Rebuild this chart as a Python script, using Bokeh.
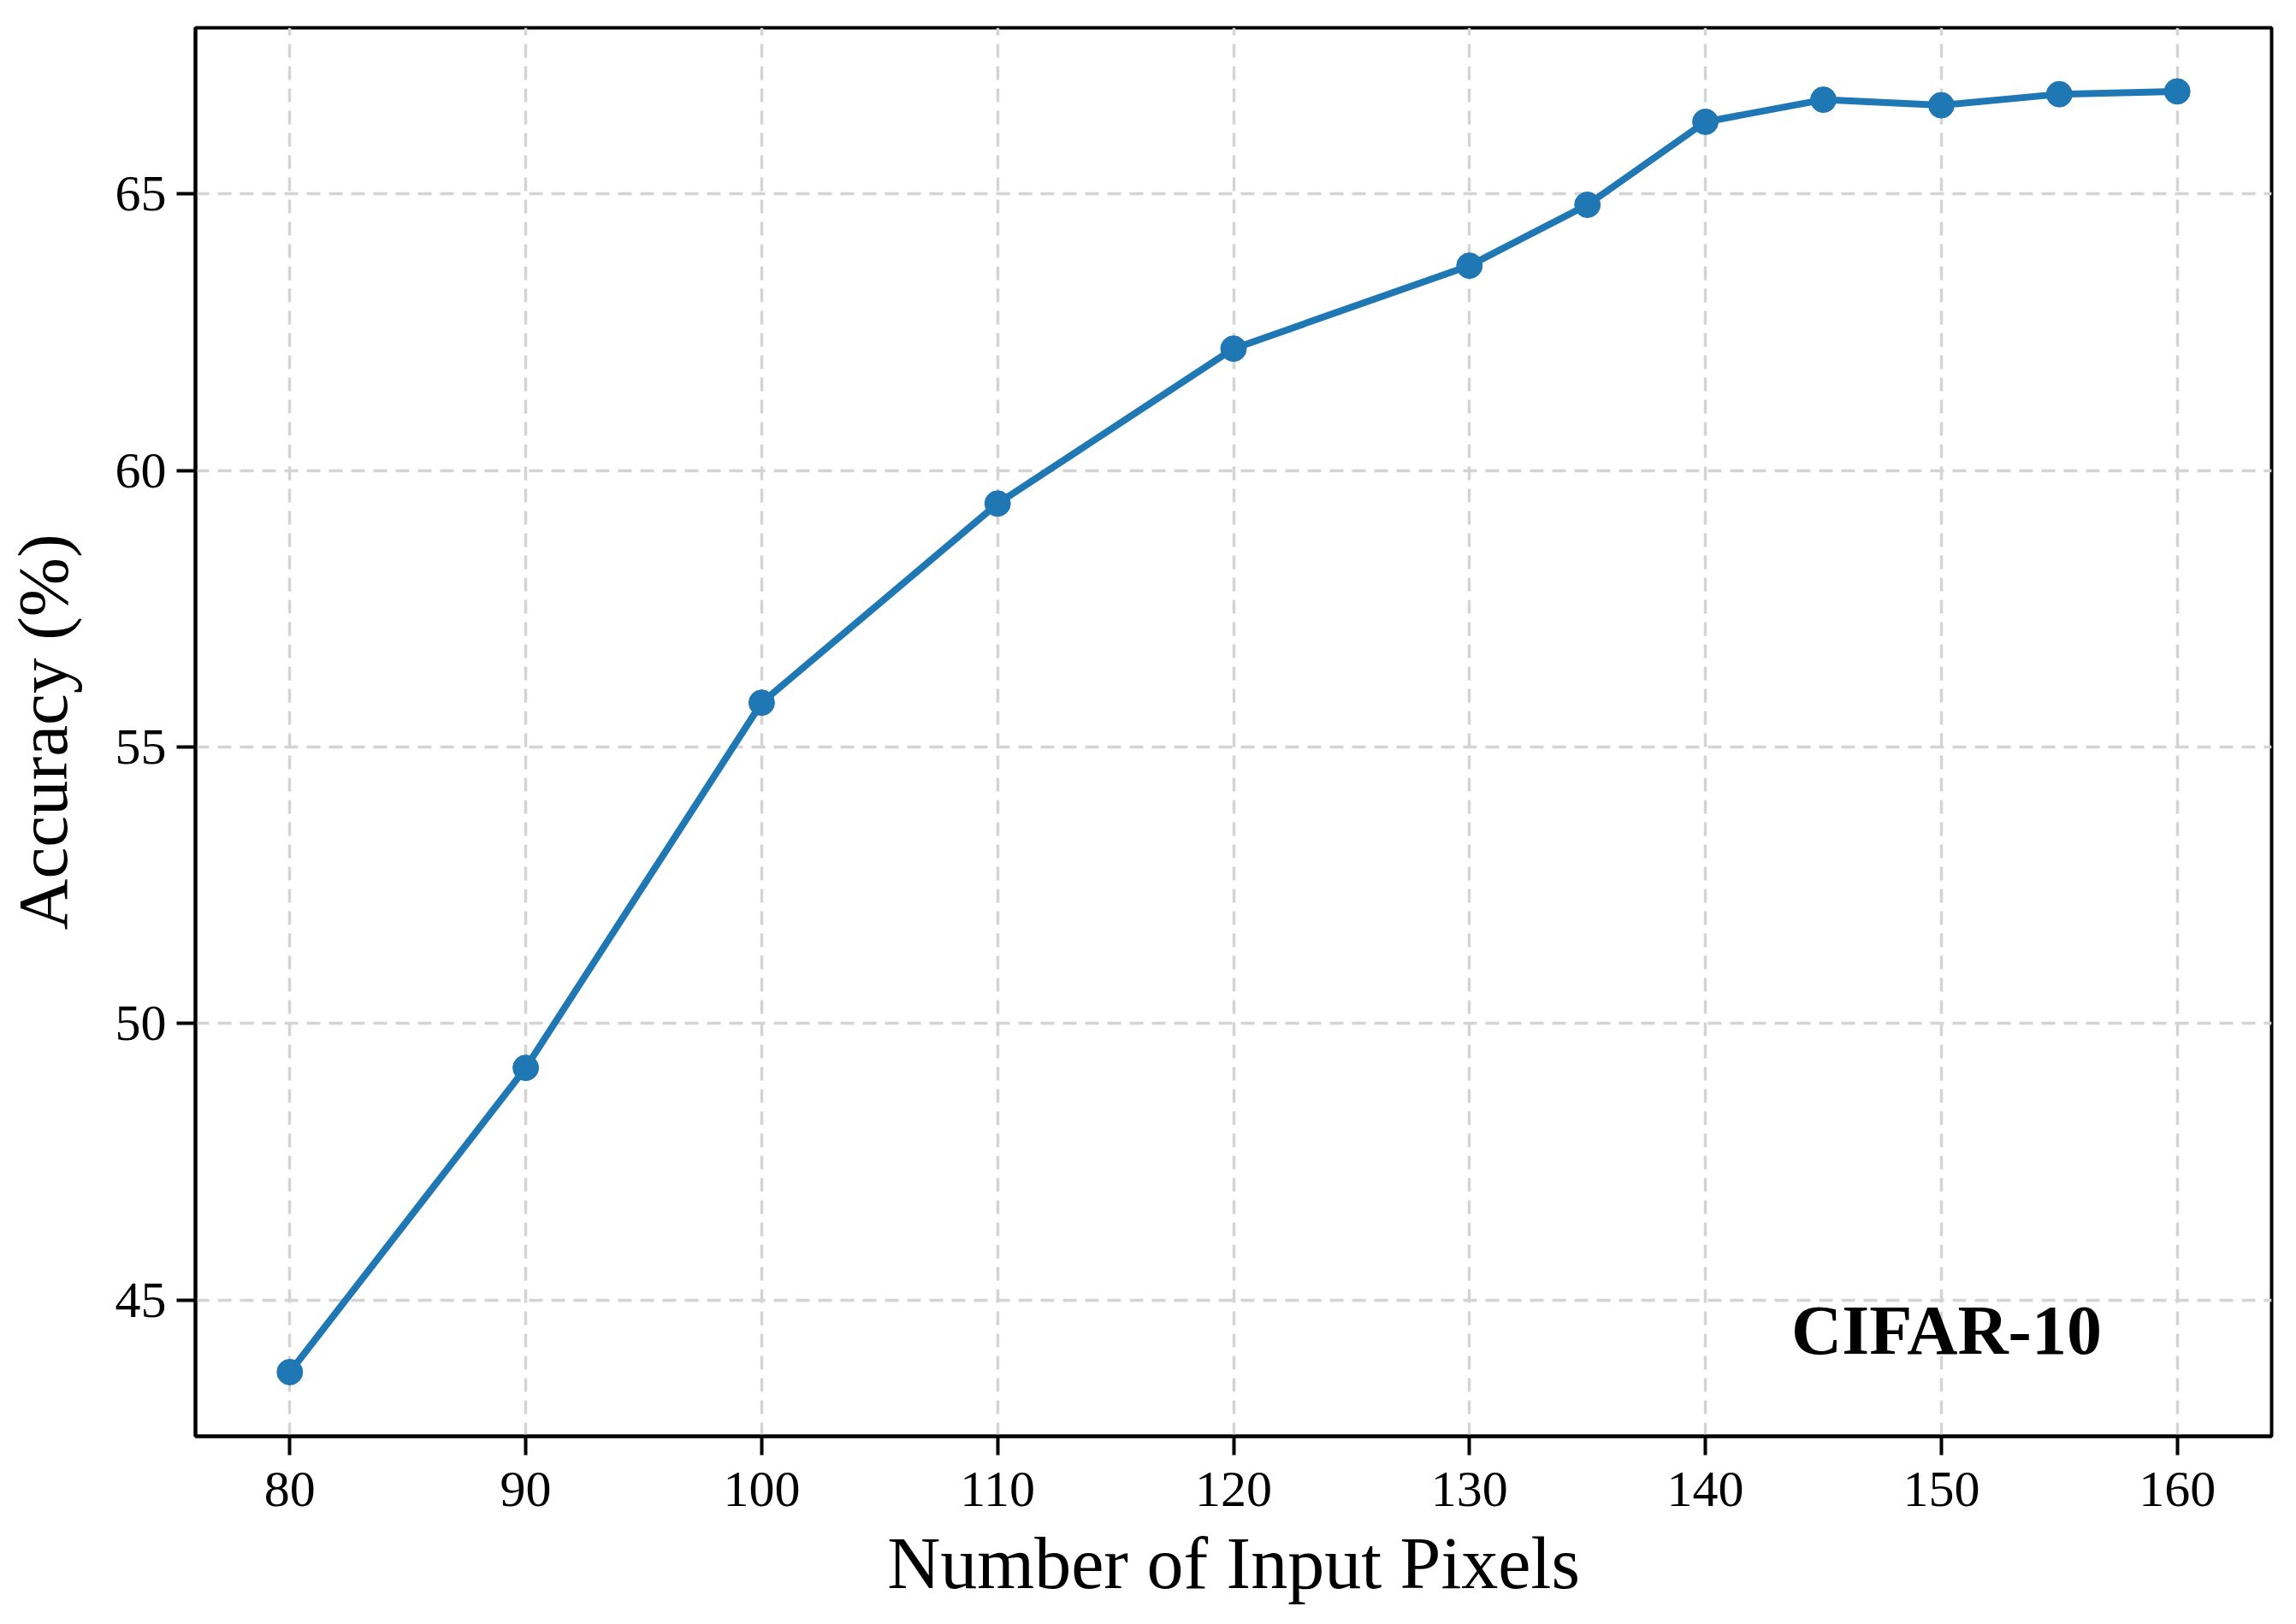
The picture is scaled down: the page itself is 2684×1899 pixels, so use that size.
from bokeh.plotting import figure
from bokeh.models import FixedTicker, ColumnDataSource, Range1d
from bokeh.core.properties import value
from bokeh.embed import file_html
from bokeh.resources import INLINE

# Data
pixels = [80, 90, 100, 110, 120, 130, 135, 140, 145, 150, 155, 160]
accuracy = [43.7, 49.2, 55.8, 59.4, 62.2, 63.7, 64.8, 66.3, 66.7, 66.6, 66.8, 66.85]
x_ticks = [80, 90, 100, 110, 120, 130, 140, 150, 160]
y_ticks = [45, 50, 55, 60, 65]
dataset_label = ["CIFAR-10"]
label_pos_x = [156.8]
label_pos_y = [44.45]

SERIF = "Liberation Serif"
BLUE = "#1f77b4"

p = figure(width=2668, height=1883, output_backend="svg", toolbar_location=None,
           x_range=Range1d(76, 164), y_range=Range1d(42.54, 68.0),
           min_border_left=219, min_border_right=13, min_border_top=32, min_border_bottom=204)

p.background_fill_color = "white"
p.border_fill_color = "white"
p.outline_line_color = "black"
p.outline_line_width = 4

for ax in (p.xaxis[0], p.yaxis[0]):
    ax.axis_line_color = "black"
    ax.axis_line_width = 4
    ax.major_tick_line_color = "black"
    ax.major_tick_line_width = 4
    ax.major_tick_in = 0
    ax.major_tick_out = 22
    ax.minor_tick_line_color = None
    ax.major_label_text_font = SERIF
    ax.major_label_text_font_size = "60px"
    ax.major_label_text_color = "black"
    ax.axis_label_text_font = SERIF
    ax.axis_label_text_font_size = "86px"
    ax.axis_label_text_font_style = "normal"
    ax.axis_label_text_color = "black"

p.yaxis[0].axis_label_text_font_size = "83px"
p.xaxis[0].ticker = FixedTicker(ticks=x_ticks)
p.yaxis[0].ticker = FixedTicker(ticks=y_ticks)
p.xaxis[0].axis_label = "Number of Input Pixels"
p.yaxis[0].axis_label = "Accuracy (%)"
p.xaxis[0].major_label_standoff = 20
p.xaxis[0].axis_label_standoff = 16
p.yaxis[0].major_label_standoff = 12
p.yaxis[0].axis_label_standoff = 36

for g in (p.xgrid[0], p.ygrid[0]):
    g.grid_line_color = "#d4d4d4"
    g.grid_line_width = 3.5
    g.grid_line_dash = "16 10"
p.xgrid[0].ticker = FixedTicker(ticks=x_ticks)
p.ygrid[0].ticker = FixedTicker(ticks=y_ticks)

src = ColumnDataSource(data=dict(x=pixels, y=accuracy))
p.line("x", "y", source=src, line_color=BLUE, line_width=8)
p.scatter("x", "y", source=src, size=30, fill_color=BLUE, line_color=BLUE, line_width=1)

lsrc = ColumnDataSource(data=dict(x=label_pos_x, y=label_pos_y, t=dataset_label))
p.text("x", "y", text="t", source=lsrc, text_font=value(SERIF), text_font_style="bold",
       text_font_size="82px", text_align="right", text_baseline="alphabetic", text_color="black")

open("out.html", "w").write(file_html(p, INLINE))
